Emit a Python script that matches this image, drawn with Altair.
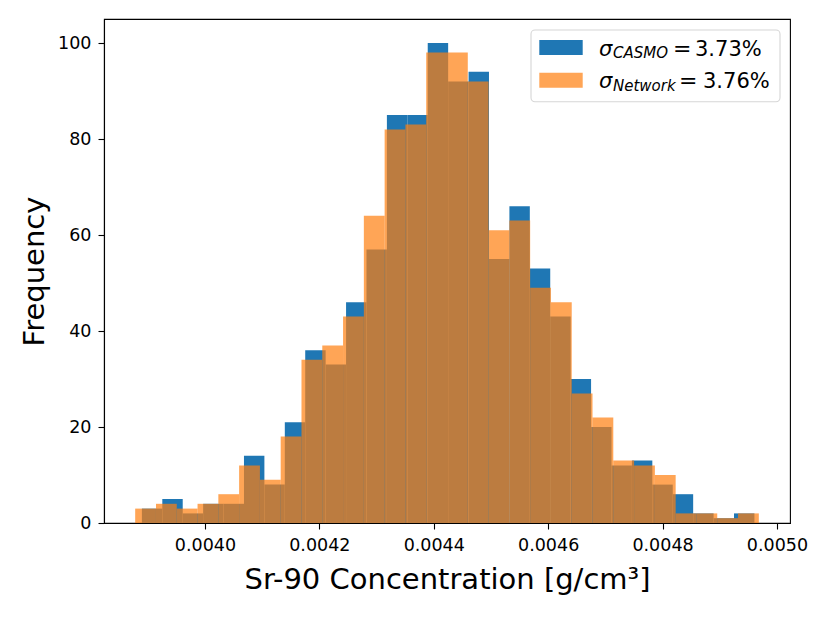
import altair as alt
import numpy as np
import pandas as pd

# ---- data (30-bin histograms, 1000 samples each) ----
casmo_counts = [3, 5, 2, 4, 4, 14, 8, 21, 36, 33, 46, 57, 85, 85, 100,
                92, 94, 55, 66, 53, 43, 30, 20, 12, 13, 8, 6, 2, 1, 2]
network_counts = [3, 4, 3, 4, 6, 12, 9, 18, 34, 37, 43, 64, 82, 83, 98,
                  98, 92, 61, 63, 49, 46, 27, 22, 13, 12, 10, 2, 2, 1, 2]
casmo_range = [0.00388976, 0.00496063]
network_range = [0.00387804, 0.00496833]
x_ticks = [0.0040, 0.0042, 0.0044, 0.0046, 0.0048, 0.0050]
y_ticks = [0, 20, 40, 60, 80, 100]
legend_labels = ["CASMO", "Network"]
legend_values = ["3.73%", "3.76%"]

BLUE = "#1f77b4"
ORANGE = "#ff7f0e"
FONT = "DejaVu Sans"


def hist_frame(counts, rng):
    edges = np.linspace(rng[0], rng[1], len(counts) + 1)
    return pd.DataFrame({"x": edges[:-1], "x2": edges[1:], "count": counts})


casmo_df = hist_frame(casmo_counts, casmo_range)
network_df = hist_frame(network_counts, network_range)

lo = min(casmo_range[0], network_range[0])
hi = max(casmo_range[1], network_range[1])
pad = 0.05 * (hi - lo)
x_scale = alt.Scale(domain=[lo - pad, hi + pad], nice=False, zero=False)
y_scale = alt.Scale(domain=[0, 105], nice=False)

x_axis = alt.Axis(
    values=x_ticks, format=".4f", grid=False, tickSize=6, tickWidth=1.1,
    tickColor="black", domain=True, domainColor="black", domainWidth=1.1,
    labelFont=FONT, labelFontSize=17.5, labelColor="black", labelPadding=7,
    title="Sr-90 Concentration [g/cm³]", titleFont=FONT, titleFontSize=29,
    titleFontWeight="normal", titleColor="black", titleBaseline="alphabetic",
    titleY=65, zindex=1,
)
y_axis = alt.Axis(
    values=y_ticks, grid=False, tickSize=6, tickWidth=1.1, tickColor="black",
    domain=True, domainColor="black", domainWidth=1.1,
    labelFont=FONT, labelFontSize=17.5, labelColor="black", labelPadding=7,
    title="Frequency", titleFont=FONT, titleFontSize=29,
    titleFontWeight="normal", titleColor="black", titleBaseline="alphabetic",
    titleX=-61, zindex=1,
)

casmo = alt.Chart(casmo_df).mark_rect(color=BLUE, opacity=1.0).encode(
    x=alt.X("x:Q", scale=x_scale, axis=x_axis),
    x2="x2:Q",
    y=alt.Y("count:Q", scale=y_scale, axis=y_axis),
    y2=alt.datum(0),
)
network = alt.Chart(network_df).mark_rect(color=ORANGE, opacity=0.7).encode(
    x=alt.X("x:Q", scale=x_scale),
    x2="x2:Q",
    y=alt.Y("count:Q", scale=y_scale),
    y2=alt.datum(0),
)

one = pd.DataFrame({"k": [0]})

legend_box = alt.Chart(one).mark_rect(
    fill="white", fillOpacity=0.8, stroke="#d6d6d6", strokeWidth=1.1,
    cornerRadius=4,
).encode(x=alt.value(427), x2=alt.value(676), y=alt.value(11), y2=alt.value(82.7))

layers = [casmo, network, legend_box]
rows = [
    dict(color=BLUE, op=1.0, sy=21, base=36.7, sub=39.3, eq=569, val=591),
    dict(color=ORANGE, op=0.7, sy=53.7, base=69.3, sub=72.0, eq=575, val=599),
]
for r, lab, v in zip(rows, legend_labels, legend_values):
    layers.append(
        alt.Chart(one).mark_rect(color=r["color"], opacity=r["op"]).encode(
            x=alt.value(435.3), x2=alt.value(478.7),
            y=alt.value(r["sy"]), y2=alt.value(r["sy"] + 15),
        )
    )
    layers.append(
        alt.Chart(one).mark_text(
            text="σ", font=FONT, fontSize=21, fontStyle="italic",
            align="left", baseline="alphabetic", color="black",
        ).encode(x=alt.value(495), y=alt.value(r["base"]))
    )
    layers.append(
        alt.Chart(one).mark_text(
            text=lab, font=FONT, fontSize=15, fontStyle="italic",
            align="left", baseline="alphabetic", color="black",
        ).encode(x=alt.value(509), y=alt.value(r["sub"]))
    )
    layers.append(
        alt.Chart(one).mark_text(
            text="=", font=FONT, fontSize=22, align="left",
            baseline="alphabetic", color="black",
        ).encode(x=alt.value(r["eq"]), y=alt.value(r["base"]))
    )
    layers.append(
        alt.Chart(one).mark_text(
            text=v, font=FONT, fontSize=21, align="left",
            baseline="alphabetic", color="black",
        ).encode(x=alt.value(r["val"]), y=alt.value(r["base"]))
    )

chart = alt.layer(*layers).properties(
    width=686, height=504,
    autosize=alt.AutoSizeParams(type="none"),
    padding={"left": 96, "top": 11, "right": 30, "bottom": 90},
    background="white",
).configure_view(stroke="black", strokeWidth=1.1)

chart.save("out.html", embed_options={"renderer": "svg", "actions": False})
